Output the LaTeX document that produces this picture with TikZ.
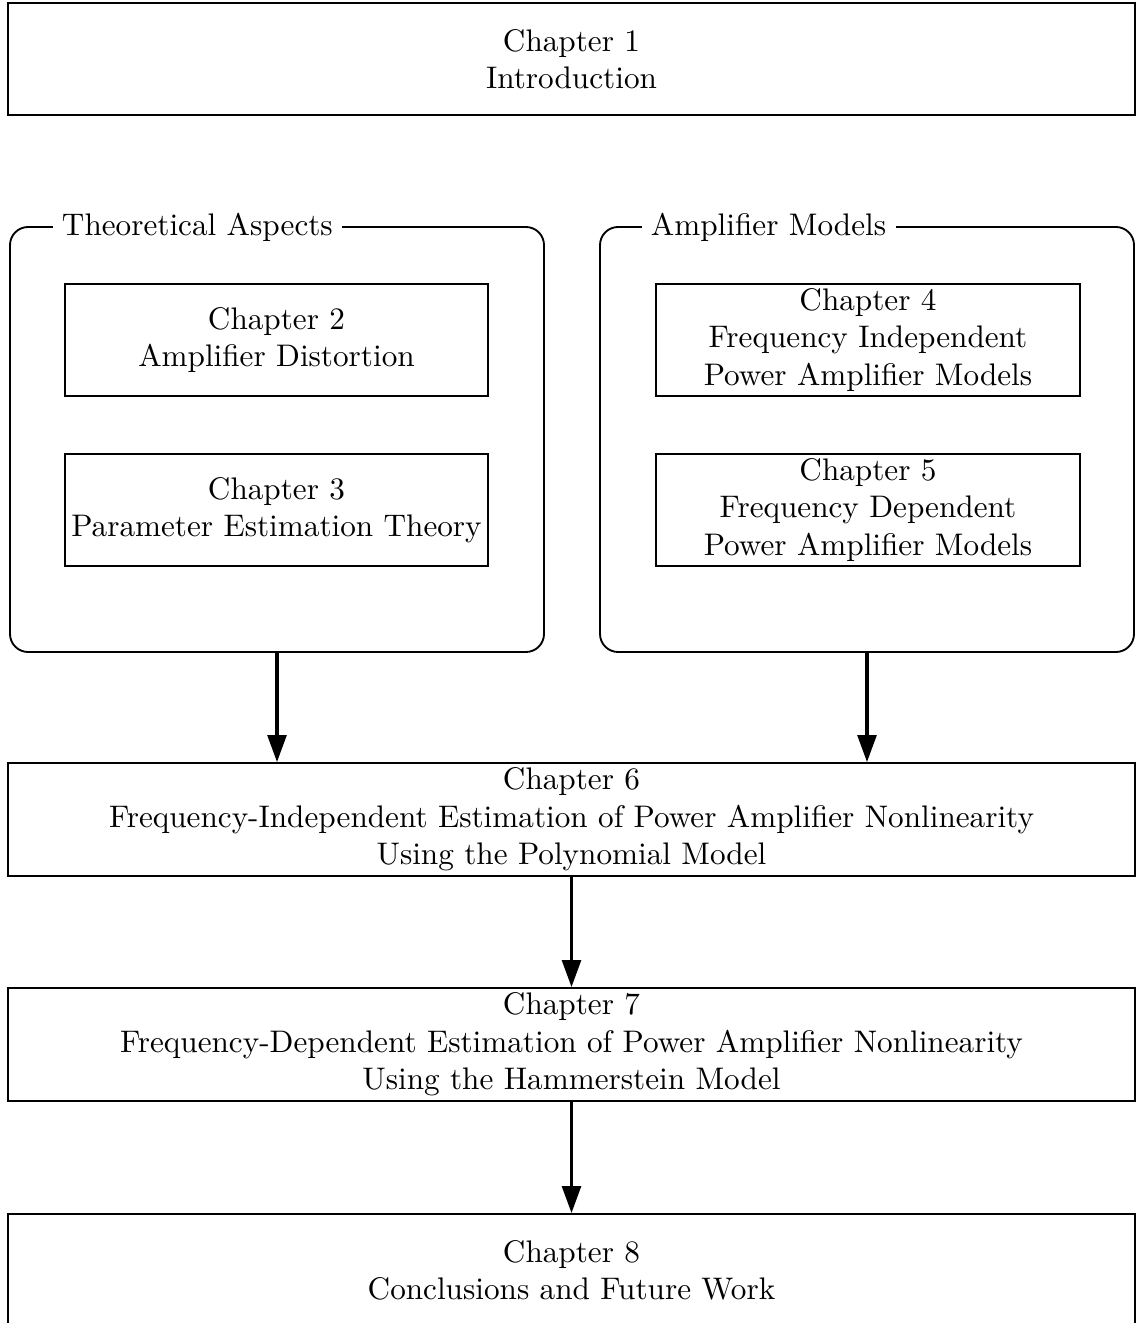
\documentclass[tikz,border=0pt]{standalone}
\usetikzlibrary{arrows.meta}
\newcommand\upx{0.3205pt}
\begin{document}
\begin{tikzpicture}[x=\upx, y=-\upx,
  chapbox/.style={draw, line width=0.6pt, rectangle, align=center, inner sep=0pt},
  groupbox/.style={draw, line width=0.6pt, rectangle, rounded corners=5.8pt, inner sep=0pt},
  grouplabel/.style={fill=white, inner sep=3pt, anchor=west},
  flow/.style={line width=1pt, -{Triangle[length=8.6pt,width=6pt]}}]
\path[use as bounding box, clip] (0,0) rectangle (1143,1323);

% top chapter
\node[chapbox, minimum width=1127*\upx, minimum height=112*\upx] (ch1) at (571.5,59)
  {Chapter 1\\Introduction};

% grouped chapters
\node[groupbox, minimum width=534*\upx, minimum height=425*\upx] (grpL) at (277,439.5) {};
\node[groupbox, minimum width=534*\upx, minimum height=425*\upx] (grpR) at (867,439.5) {};
\node[grouplabel] (labL) at (52,227) {Theoretical Aspects};
\node[grouplabel] (labR) at (641,227) {Amplifier Models};

\node[chapbox, minimum width=423*\upx, minimum height=112*\upx] (ch2) at (276.5,340)
  {Chapter 2\\Amplifier Distortion};
\node[chapbox, minimum width=423*\upx, minimum height=112*\upx] (ch3) at (276.5,510)
  {Chapter 3\\Parameter Estimation Theory};
\node[chapbox, minimum width=424*\upx, minimum height=112*\upx] (ch4) at (868,340)
  {Chapter 4\\Frequency Independent\\Power Amplifier Models};
\node[chapbox, minimum width=424*\upx, minimum height=112*\upx] (ch5) at (868,510)
  {Chapter 5\\Frequency Dependent\\Power Amplifier Models};

% main sequence
\node[chapbox, minimum width=1127*\upx, minimum height=113*\upx] (ch6) at (571.5,819.5)
  {Chapter 6\\Frequency-Independent Estimation of Power Amplifier Nonlinearity\\Using the Polynomial Model};
\node[chapbox, minimum width=1127*\upx, minimum height=113*\upx] (ch7) at (571.5,1044.5)
  {Chapter 7\\Frequency-Dependent Estimation of Power Amplifier Nonlinearity\\Using the Hammerstein Model};
\node[chapbox, minimum width=1127*\upx, minimum height=113*\upx] (ch8) at (571.5,1270.5)
  {Chapter 8\\Conclusions and Future Work};

% connectors
\draw[flow] (grpL.south) -- (grpL.south |- ch6.north);
\draw[flow] (grpR.south) -- (grpR.south |- ch6.north);
\draw[flow] (ch6.south) -- (ch7.north);
\draw[flow] (ch7.south) -- (ch8.north);
\end{tikzpicture}
\end{document}
